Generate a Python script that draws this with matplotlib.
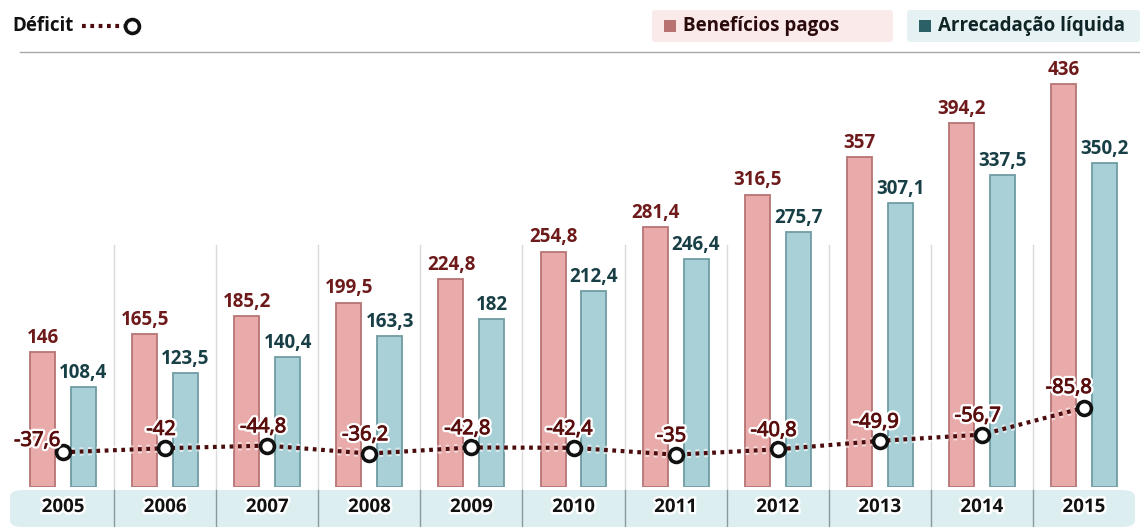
import matplotlib
matplotlib.use("Agg")
import matplotlib.pyplot as plt
import matplotlib.patheffects as pe
from matplotlib.patches import FancyBboxPatch, Rectangle
from matplotlib.lines import Line2D
import numpy as np

plt.rcParams['font.family'] = ['Open Sans', 'DejaVu Sans']

years = ["2005", "2006", "2007", "2008", "2009", "2010", "2011", "2012", "2013", "2014", "2015"]
beneficios = [146, 165.5, 185.2, 199.5, 224.8, 254.8, 281.4, 316.5, 357, 394.2, 436]
arrecadacao = [108.4, 123.5, 140.4, 163.3, 182, 212.4, 246.4, 275.7, 307.1, 337.5, 350.2]
deficit = [-37.6, -42, -44.8, -36.2, -42.8, -42.4, -35, -40.8, -49.9, -56.7, -85.8]

def fmt(v):
    s = ("%.1f" % v).rstrip('0').rstrip('.')
    return s.replace('.', ',')

W, H = 1140, 527
fig = plt.figure(figsize=(W / 100, H / 100), dpi=100)
fig.patch.set_facecolor('white')

def fx(px):
    return px / W

def fy(py):
    return 1 - py / H

ax_left, ax_right, ax_top, ax_bot = 12, 1135, 52, 487
ax = fig.add_axes([fx(ax_left), fy(ax_bot), fx(ax_right - ax_left), (ax_bot - ax_top) / H])
ax.set_xlim(-0.5, len(years) - 0.5)
ax.set_ylim(0, (ax_bot - ax_top) / 0.924)
ax.axis('off')

x = np.arange(len(years))
bw = 0.245
off = 0.2

red_fill, red_edge, red_txt = '#e9aaaa', '#b77474', '#6e1a1a'
teal_fill, teal_edge, teal_txt = '#a9d0d6', '#6f9da4', '#173f45'

def col_x(v):
    return ax.transData.transform((v, 0))[0] / W

# column separators
for i in range(1, len(years)):
    xx = col_x(i - 0.5)
    fig.add_artist(Line2D([xx, xx], [fy(245), fy(490)], color='#dadada', lw=1.0, zorder=0))

ax.bar(x - off, beneficios, bw, color=red_fill, edgecolor=red_edge, linewidth=1.3, zorder=2)
ax.bar(x + off, arrecadacao, bw, color=teal_fill, edgecolor=teal_edge, linewidth=1.3, zorder=2)

for i in range(len(years)):
    ax.annotate(fmt(beneficios[i]), (x[i] - off, beneficios[i]), xytext=(0, 3), textcoords='offset points',
                ha='center', va='bottom', fontsize=13.5, fontweight='bold', color=red_txt, zorder=5)
    ax.annotate(fmt(arrecadacao[i]), (x[i] + off, arrecadacao[i]), xytext=(0, 3), textcoords='offset points',
                ha='center', va='bottom', fontsize=13.5, fontweight='bold', color=teal_txt, zorder=5)

dabs = [abs(d) for d in deficit]
ax.plot(x, dabs, color='#4a0c0c', lw=3, linestyle=(0, (0.9, 1.1)), zorder=3,
        path_effects=[pe.Stroke(linewidth=6, foreground=(1, 1, 1, 0.6)), pe.Normal()])
ax.plot(x, dabs, linestyle='none', marker='o', markersize=10, markerfacecolor='white',
        markeredgecolor='#111111', markeredgewidth=2.6, zorder=4)

glow = [pe.withStroke(linewidth=3.5, foreground='white')]
dglow = [pe.Stroke(linewidth=4, foreground='white'), pe.Stroke(linewidth=0.7, foreground='#5a0d0d'), pe.Normal()]
for i in range(len(years)):
    dx, dy = -3, 6
    ha = 'center'
    if i == 0:
        dx, dy, ha = -2, 1, 'right'
    elif i == len(years) - 1:
        dx, dy = -11, 7
    ax.annotate(fmt(deficit[i]), (x[i], dabs[i]), xytext=(dx, dy), textcoords='offset points',
                ha=ha, va='bottom', fontsize=14.5, color='#5a0d0d', zorder=6, path_effects=dglow)

# year band
band = FancyBboxPatch((fx(10), fy(527)), fx(1125), (527 - 490) / H,
                      boxstyle='round,pad=0,rounding_size=0.012', transform=fig.transFigure,
                      facecolor='#ddeef1', edgecolor='none', zorder=0)
fig.add_artist(band)
for i in range(1, len(years)):
    xx = col_x(i - 0.5)
    fig.add_artist(Line2D([xx, xx], [fy(490), fy(527)], color='#8a9a9c', lw=1.0, zorder=1))
for i, yr in enumerate(years):
    fig.text(col_x(x[i]), fy(507), yr, ha='center', va='center', fontsize=13.5, fontweight='bold',
             color='#111111', path_effects=glow, zorder=3)

# header line
fig.add_artist(Line2D([fx(20), fx(1140)], [fy(52), fy(52)], color='#a8a8a8', lw=1.0))

# legend: deficit
fig.text(fx(12), fy(26), 'Déficit', ha='left', va='center', fontsize=13.5, fontweight='bold', color='#111111')
fig.add_artist(Line2D([fx(82), fx(124)], [fy(26), fy(26)], color='#4a0c0c', lw=3, linestyle=(0, (0.9, 1.1))))
fig.add_artist(Line2D([fx(132)], [fy(26)], marker='o', markersize=10, markerfacecolor='white',
                      markeredgecolor='#111111', markeredgewidth=2.6, linestyle='none'))

# legend boxes
for (x0, x1, bg, sq, label, tc) in [(652, 893, '#fbeaea', '#b87272', 'Benefícios pagos', '#2a0a0a'),
                                     (907, 1140, '#e6f1f3', '#2b6166', 'Arrecadação líquida', '#0e2426')]:
    fig.add_artist(FancyBboxPatch((fx(x0), fy(42)), fx(x1 - x0), 32 / H,
                                  boxstyle='round,pad=0,rounding_size=0.004', transform=fig.transFigure,
                                  facecolor=bg, edgecolor='none'))
    fig.add_artist(Rectangle((fx(x0 + 12), fy(32)), fx(12), 12 / H, transform=fig.transFigure,
                             facecolor=sq, edgecolor='none'))
    fig.text(fx(x0 + 31), fy(26), label, ha='left', va='center', fontsize=13.5, fontweight='bold', color=tc)

fig.savefig('out.png', dpi=100, facecolor='white')
